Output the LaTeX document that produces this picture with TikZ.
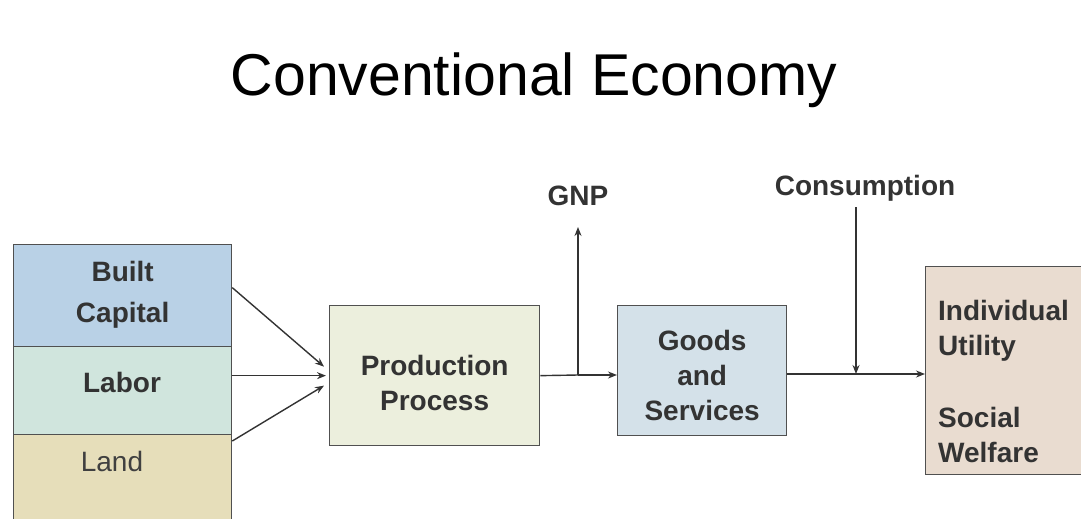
\documentclass[tikz,border=0pt]{standalone}
\usepackage{fontspec}
\setmainfont{Liberation Sans}
\usetikzlibrary{arrows.meta,calc}
\definecolor{txt}{HTML}{333333}
\definecolor{edge}{HTML}{505050}
\definecolor{cbuilt}{HTML}{B9D1E6}
\definecolor{clabor}{HTML}{D0E5DD}
\definecolor{cland}{HTML}{E6DEBA}
\definecolor{cprod}{HTML}{ECEFDD}
\definecolor{cgoods}{HTML}{D4E1E9}
\definecolor{cutil}{HTML}{E9DCD0}
\tikzset{
  box/.style={draw=edge, line width=1.3pt, inner sep=0pt},
  lbl/.style={text=txt, font=\bfseries\fontsize{28}{35}\selectfont, inner sep=0pt, align=center},
  arr/.style={draw=txt, line width=1.4pt, -{Stealth[length=9pt,width=7pt]}},
  ln/.style={draw=txt, line width=1.4pt}
}
\begin{document}
\begin{tikzpicture}[x=1pt,y=-1pt]
\useasboundingbox (0,0) rectangle (1081,519);
\node[text=black, font=\fontsize{59}{70}\selectfont, anchor=base] (title) at (534,95) {Conventional Economy};
% left stack
\node[box, fill=cland, minimum width=218pt, minimum height=100pt, anchor=north west] (land) at (13,434) {};
\node[box, fill=clabor, minimum width=218pt, minimum height=88pt, anchor=north west] (labor) at (13,346) {};
\node[box, fill=cbuilt, minimum width=218pt, minimum height=102pt, anchor=north west] (built) at (13,244) {};
\node[lbl, font=\bfseries\fontsize{28}{41}\selectfont] (builttxt) at ($(built.center)+(0,-1)$) {Built\\Capital};
\node[lbl] (labortxt) at (122,382) {Labor};
\node[lbl, font=\fontsize{28}{35}\selectfont, text=black!75] (landtxt) at (112,461) {Land};
% production
\node[box, fill=cprod, minimum width=210pt, minimum height=140pt, anchor=north west] (prod) at (329,305) {};
\node[lbl] (prodtxt) at ($(prod.center)+(0,7)$) {Production\\Process};
% goods
\node[box, fill=cgoods, minimum width=169pt, minimum height=130pt, anchor=north west] (goods) at (617,305) {};
\node[lbl] (goodstxt) at ($(goods.center)+(0,5)$) {Goods\\and\\Services};
% utility
\node[box, fill=cutil, minimum width=180pt, minimum height=208pt, anchor=north west] (util) at (925,266) {};
\node[lbl, align=left, anchor=west] (utiltxt) at ($(util.west)+(13,11)$) {Individual\\Utility\\[37pt]Social\\Welfare};
% labels
\node[lbl] (gnp) at (578,196) {GNP};
\node[lbl] (cons) at (865,188) {Consumption};
\coordinate (gnpj) at (578,375);
\coordinate (consj) at (856,374);
\coordinate (gnptop) at (578,227);
\coordinate (constop) at (856,207);
% inputs
\draw[arr] ($(built.east)+(0,-8)$) -- ($(prod.west)+(-5,-9)$);
\draw[arr] ($(labor.east)+(0,-15)$) -- ($(prod.west)+(-3,0)$);
\draw[arr] ($(land.north east)+(0,7)$) -- ($(prod.west)+(-5,10)$);
% flows
\draw[ln] (prod.east) -- (gnpj);
\draw[arr] (gnpj) -- (goods.west |- gnpj);
\draw[arr] (gnpj) -- (gnptop);
\draw[arr] (goods.east |- consj) -- (util.west |- consj);
\draw[arr] (constop) -- (consj);
\end{tikzpicture}
\end{document}
